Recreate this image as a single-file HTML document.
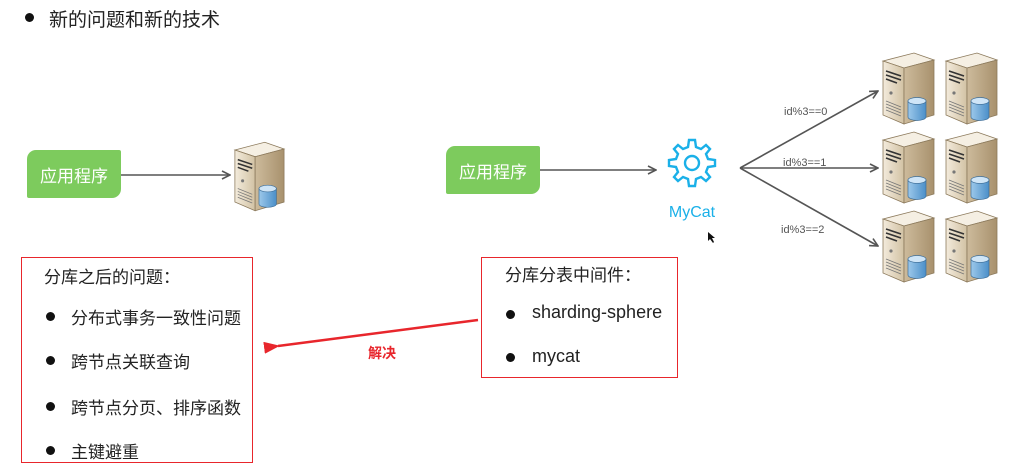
<!DOCTYPE html>
<html><head><meta charset="utf-8"><style>
body{margin:0;width:1011px;height:465px;background:#fff;position:relative;overflow:hidden;font-family:"Liberation Sans","Noto Sans CJK SC",sans-serif;color:#222}
.a{position:absolute;white-space:nowrap}
.g{position:absolute;background:#7dcb5d;color:#fff;font-size:17px;display:flex;align-items:center;justify-content:center;border-radius:9px 2px 9px 2px}
.box{position:absolute;border:1.5px solid #e8262c}
.dot{position:absolute;width:9px;height:9px;border-radius:50%;background:#111}
</style></head><body>
<div class="dot" style="left:25px;top:13px"></div>
<div class="a" style="left:49px;top:5px;font-size:19px">新的问题和新的技术</div>

<div class="g" style="left:27px;top:150px;width:94px;height:48px">应用程序</div>
<div class="g" style="left:446px;top:146px;width:94px;height:48px">应用程序</div>

<svg width="1011" height="465" style="position:absolute;left:0;top:0">
<defs>
<marker id="ah" markerWidth="10" markerHeight="10" refX="9" refY="5" orient="auto" markerUnits="userSpaceOnUse"><path d="M1,1 L9,5 L1,9" fill="none" stroke="#555" stroke-width="1.6"/></marker>
<marker id="rh" markerWidth="16" markerHeight="12" refX="2" refY="6" orient="auto" markerUnits="userSpaceOnUse"><path d="M16,0 L0,6 L16,12 Z" fill="#e8262c"/></marker>
<linearGradient id="sf" x1="0" x2="1"><stop offset="0" stop-color="#f3ebdc"/><stop offset="1" stop-color="#d2c2a4"/></linearGradient>
<linearGradient id="ss" x1="0" x2="1"><stop offset="0" stop-color="#cdbb9c"/><stop offset="1" stop-color="#a8916d"/></linearGradient>
<linearGradient id="db" x1="0" x2="1"><stop offset="0" stop-color="#9cc8ea"/><stop offset="1" stop-color="#4b8fc9"/></linearGradient>
<symbol id="srv" viewBox="0 0 56 74">
<path d="M3,10 L34,2 L54,9 L24,17 Z" fill="#f5efe3" stroke="#8c7a5c" stroke-width=".8"/>
<path d="M3,10 L24,17 L24,73 L3,64 Z" fill="url(#sf)" stroke="#8c7a5c" stroke-width=".8"/>
<path d="M24,17 L54,9 L54,64 L24,73 Z" fill="url(#ss)" stroke="#8c7a5c" stroke-width=".8"/>
<path d="M6,20 L21,25 M6,24 L21,29 M6,28 L17,32" stroke="#333" stroke-width="1.6"/>
<circle cx="11" cy="42" r="1.6" fill="#777"/>
<path d="M6,50 L21,56 M6,53 L21,59 M6,56 L21,62 M6,59 L21,65" stroke="#777" stroke-width=".8"/>
<path d="M28,50 L28,66 A9,3.5 0 0 0 46,66 L46,50 Z" fill="url(#db)" stroke="#3f6f99" stroke-width=".7"/>
<ellipse cx="37" cy="50" rx="9" ry="3.5" fill="#cfe5f7" stroke="#3f6f99" stroke-width=".7"/>
</symbol>
</defs>
<line x1="121" y1="175" x2="230" y2="175" stroke="#555" stroke-width="1.6" marker-end="url(#ah)"/>
<use href="#srv" x="232" y="140" width="54" height="72"/>
<line x1="540" y1="170" x2="656" y2="170" stroke="#555" stroke-width="1.6" marker-end="url(#ah)"/>
<line x1="740" y1="168" x2="878" y2="91" stroke="#555" stroke-width="1.6" marker-end="url(#ah)"/>
<line x1="740" y1="168" x2="878" y2="168" stroke="#555" stroke-width="1.6" marker-end="url(#ah)"/>
<line x1="740" y1="168" x2="878" y2="246" stroke="#555" stroke-width="1.6" marker-end="url(#ah)"/>
<g fill="none" stroke="#1ab0e8" stroke-width="2.4">
<path d="M689,140 L695,140 L696,147 L701,149 L706,145 L710,149 L706,154 L708,159 L715,160 L715,166 L708,167 L706,172 L710,177 L706,181 L701,177 L696,179 L695,186 L689,186 L688,179 L683,177 L678,181 L674,177 L678,172 L676,167 L669,166 L669,160 L676,159 L678,154 L674,149 L678,145 L683,149 L688,147 Z"/>
<circle cx="692" cy="163" r="7"/>
</g>
<text x="692" y="217" fill="#1ab0e8" font-size="16" text-anchor="middle" font-family="Liberation Sans,sans-serif">MyCat</text>
<path d="M708,232 L708,241 L710,239 L713,243 L714,242 L712,238 L715,238 Z" fill="#111"/>
<g font-size="11" fill="#555" font-family="Liberation Sans,sans-serif">
<text x="784" y="115">id%3==0</text>
<text x="783" y="166">id%3==1</text>
<text x="781" y="233">id%3==2</text>
</g>
<use href="#srv" x="880" y="50" width="56" height="76"/>
<use href="#srv" x="943" y="50" width="56" height="76"/>
<use href="#srv" x="880" y="129" width="56" height="76"/>
<use href="#srv" x="943" y="129" width="56" height="76"/>
<use href="#srv" x="880" y="208" width="56" height="76"/>
<use href="#srv" x="943" y="208" width="56" height="76"/>
<line x1="478" y1="320" x2="278" y2="346" stroke="#e8262c" stroke-width="2.5" marker-end="url(#rh)"/>
</svg>
<div class="a" style="left:368px;top:343px;font-size:14px;font-weight:bold;color:#e8262c">解决</div>

<div class="box" style="left:21px;top:257px;width:230px;height:204px"></div>
<div class="a" style="left:44px;top:263px;font-size:17px">分库之后的问题：</div>
<div class="dot" style="left:46px;top:312px"></div><div class="a" style="left:71px;top:304px;font-size:17px">分布式事务一致性问题</div>
<div class="dot" style="left:46px;top:356px"></div><div class="a" style="left:71px;top:348px;font-size:17px">跨节点关联查询</div>
<div class="dot" style="left:46px;top:402px"></div><div class="a" style="left:71px;top:394px;font-size:17px">跨节点分页、排序函数</div>
<div class="dot" style="left:46px;top:446px"></div><div class="a" style="left:71px;top:438px;font-size:17px">主键避重</div>

<div class="box" style="left:481px;top:257px;width:195px;height:119px"></div>
<div class="a" style="left:505px;top:261px;font-size:17px">分库分表中间件：</div>
<div class="dot" style="left:506px;top:310px"></div><div class="a" style="left:532px;top:302px;font-size:18px">sharding-sphere</div>
<div class="dot" style="left:506px;top:353px"></div><div class="a" style="left:532px;top:346px;font-size:18px">mycat</div>
</body></html>
